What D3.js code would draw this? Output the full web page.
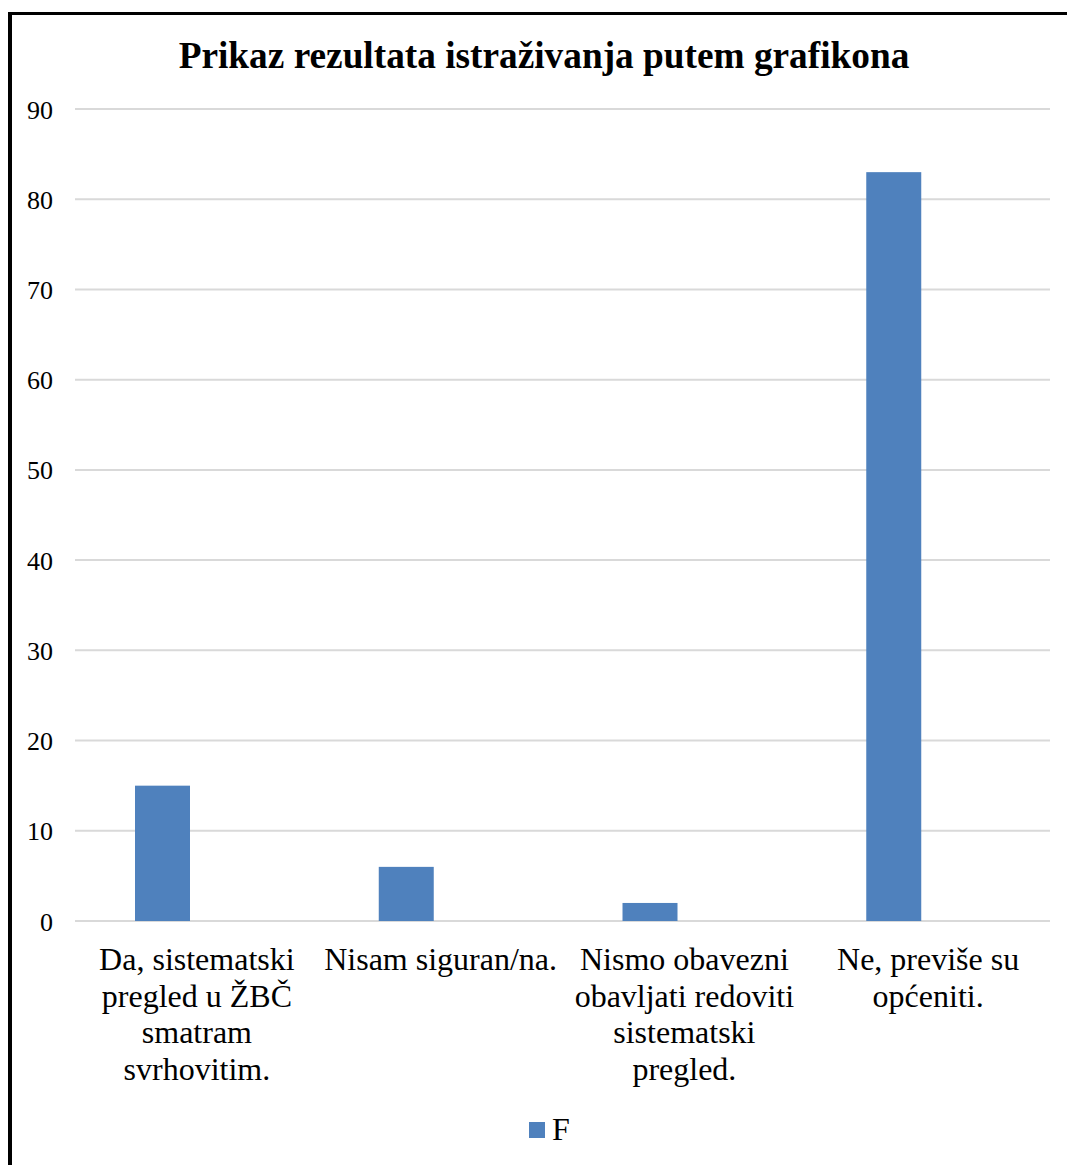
<!DOCTYPE html>
<html><head><meta charset="utf-8">
<script src="https://cdn.jsdelivr.net/npm/d3@7"></script>
<style>body{margin:0;background:#fff}svg{display:block}</style>
</head><body>
<script>
const categories = ["Da, sistematski pregled u ŽBČ smatram svrhovitim.", "Nisam siguran/na.", "Nismo obavezni obavljati redoviti sistematski pregled.", "Ne, previše su općeniti."];
const categoryLines = [
  ["Da, sistematski", "pregled u ŽBČ", "smatram", "svrhovitim."],
  ["Nisam siguran/na."],
  ["Nismo obavezni", "obavljati redoviti", "sistematski", "pregled."],
  ["Ne, previše su", "općeniti."]
];
const valuesF = [15, 6, 2, 83];
const yTicks = [0, 10, 20, 30, 40, 50, 60, 70, 80, 90];
const seriesNames = ["F", "_empty"];
const title = "Prikaz rezultata istraživanja putem grafikona";

const W = 1067, H = 1165;
const svg = d3.select("body").append("svg").attr("width", W).attr("height", H);
const serif = "'Liberation Serif', 'Times New Roman', serif";

// frame (cropped on right/bottom)
svg.append("line").attr("x1", 10).attr("x2", 10).attr("y1", 12).attr("y2", H).attr("stroke", "#000").attr("stroke-width", 4);
svg.append("line").attr("x1", 8).attr("x2", W).attr("y1", 13.5).attr("y2", 13.5).attr("stroke", "#000").attr("stroke-width", 3);

const plot = {left: 75, right: 1050, top: 109, bottom: 921};
const x = d3.scaleBand().domain(categories).range([plot.left, plot.right]).paddingInner(0).paddingOuter(0);
const xs = d3.scaleBand().domain(seriesNames).range([0, x.bandwidth()]).paddingInner(0.2).paddingOuter(0.873);
const y = d3.scaleLinear().domain([0, 90]).range([plot.bottom, plot.top]);

// title
svg.append("text").attr("x", 544).attr("y", 68).attr("text-anchor", "middle")
  .attr("font-family", serif).attr("font-weight", "bold").attr("font-size", 37.3).attr("fill", "#000").text(title);

// gridlines
svg.append("g").selectAll("line").data(yTicks).join("line")
  .attr("x1", plot.left).attr("x2", plot.right)
  .attr("y1", d => y(d)).attr("y2", d => y(d))
  .attr("stroke", "#d9d9d9").attr("stroke-width", 2);

// y axis labels
const yAxis = d3.axisLeft(y).tickValues(yTicks).tickSize(0).tickPadding(0);
const gy = svg.append("g").attr("transform", `translate(53,0)`).call(yAxis);
gy.select(".domain").remove();
gy.selectAll("text").attr("font-family", serif).attr("font-size", 26).attr("fill", "#000").attr("dy", "0.35em");

// bars
svg.append("g").selectAll("rect").data(valuesF).join("rect")
  .attr("x", (d, i) => x(categories[i]) + xs("F"))
  .attr("width", xs.bandwidth())
  .attr("y", d => y(d))
  .attr("height", d => y(0) - y(d))
  .attr("fill", "#4f81bd");

// x labels
const gx = svg.append("g");
categories.forEach((c, i) => {
  const t = gx.append("text").attr("text-anchor", "middle")
    .attr("font-family", serif).attr("font-size", 32).attr("fill", "#000");
  categoryLines[i].forEach((ln, j) => {
    t.append("tspan").attr("x", x(c) + x.bandwidth() / 2).attr("y", 970 + j * 36.7).text(ln);
  });
});

// legend
const lg = svg.append("g");
lg.append("rect").attr("x", 529).attr("y", 1122).attr("width", 16).attr("height", 16).attr("fill", "#4f81bd");
lg.append("text").attr("x", 552).attr("y", 1140).attr("font-family", serif).attr("font-size", 32).attr("fill", "#000").text(seriesNames[0]);
</script>
</body></html>
